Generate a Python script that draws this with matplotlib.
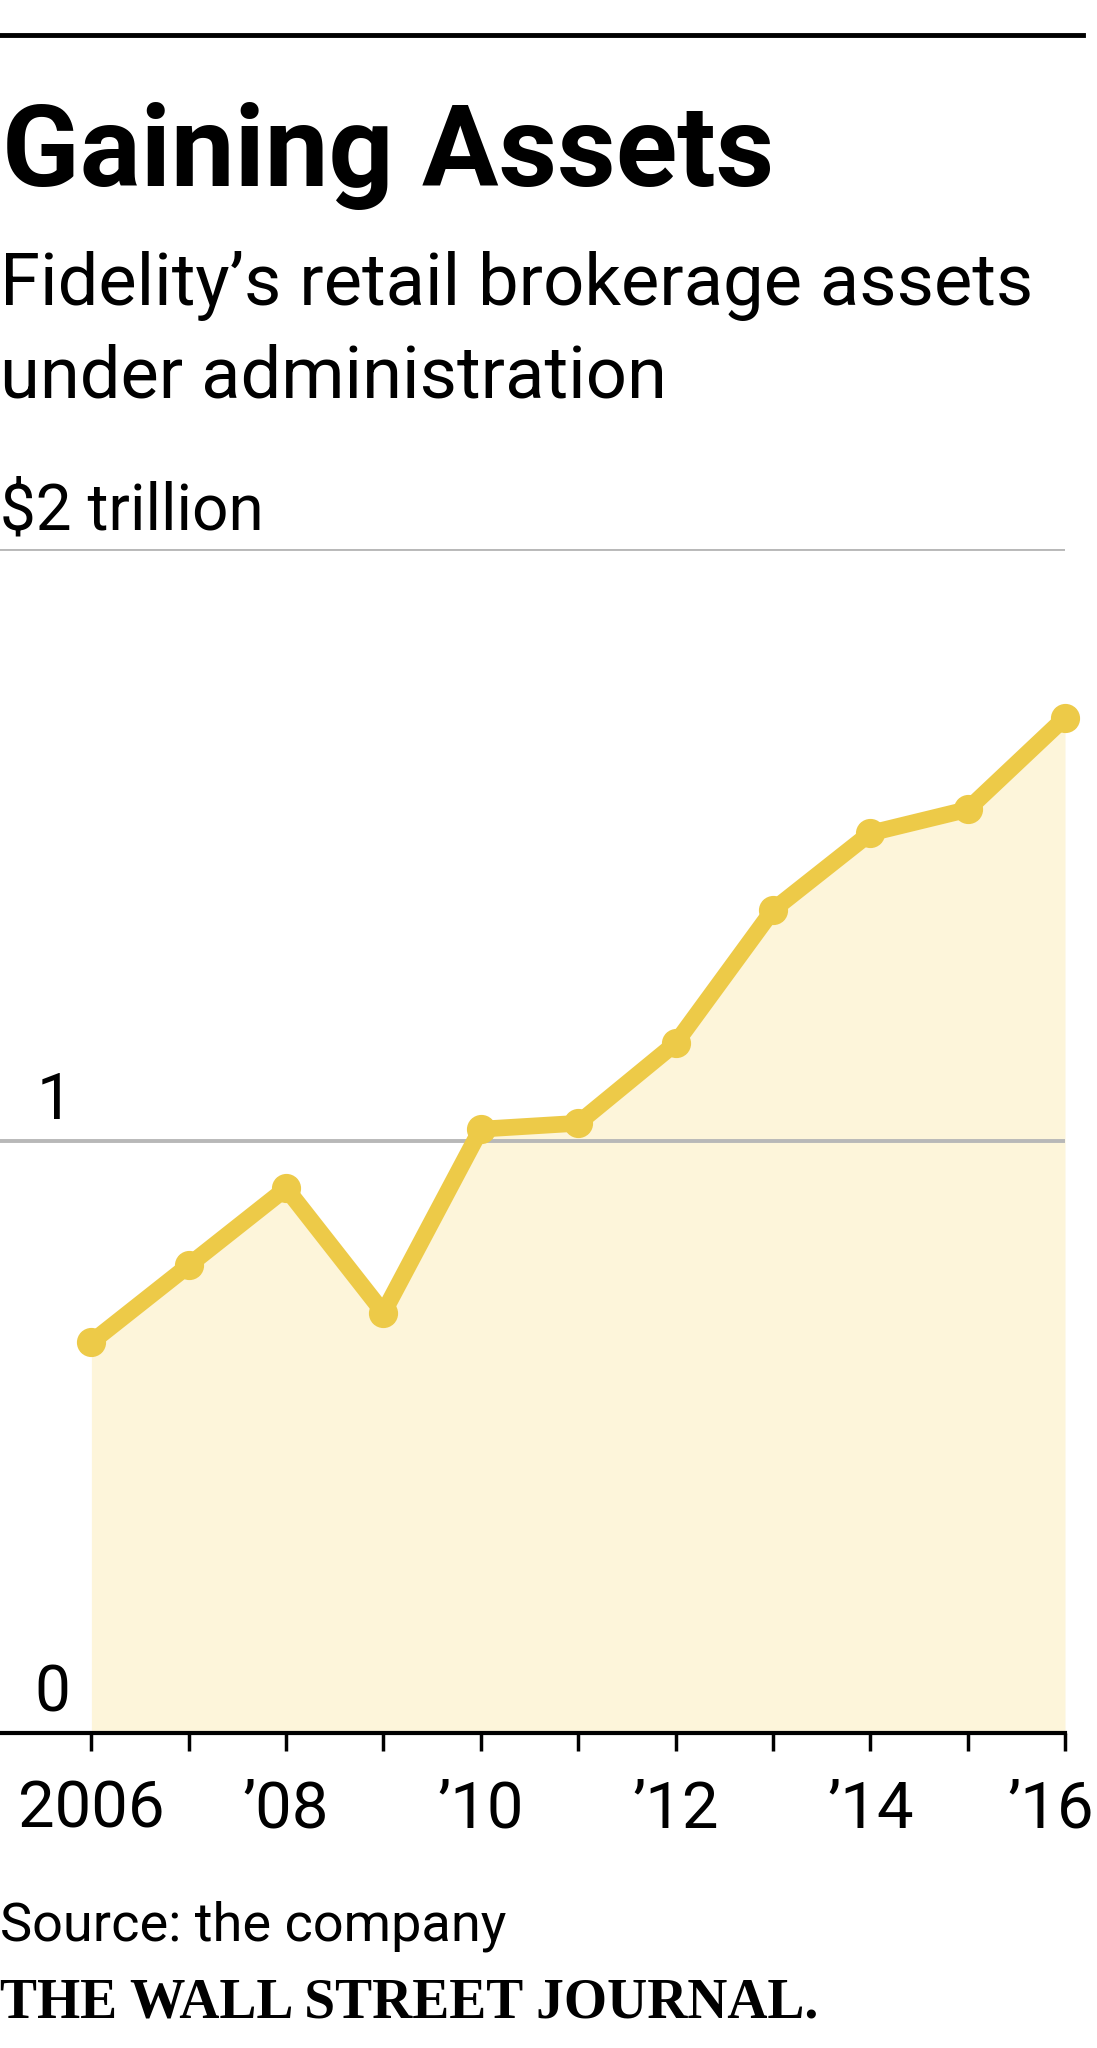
import matplotlib
matplotlib.use('Agg')
import matplotlib.pyplot as plt

# --- Dados ---
anos = [2006, 2007, 2008, 2009, 2010, 2011, 2012, 2013, 2014, 2015, 2016]
ativos_tri = [0.66, 0.79, 0.92, 0.71, 1.02, 1.03, 1.165, 1.39, 1.52, 1.56, 1.715]
anos_rotulo = [2006, 2008, 2010, 2012, 2014, 2016]
rotulos_x = ['2006', '\u201908', '\u201910', '\u201912', '\u201914', '\u201916']
grade_y = [1, 2]

# --- Estilo ---
COR_LINHA = '#EDCA48'
COR_AREA = '#FDF5DA'
COR_GRADE = '#B8B8B8'
FONTE = ['Roboto', 'DejaVu Sans']
FONTE_SERIF = ['Liberation Serif', 'DejaVu Serif']

W, H = 1097, 2048
fig = plt.figure(figsize=(W / 100, H / 100), dpi=100)

def fx(px):
    return px / W

def fy(py):
    return 1 - py / H

# área do gráfico: x de 0 a 1065 px, y=0 em 1733 px, y=2 em 549 px
X_DIR = 1065
X_2006 = 91.4
ax = fig.add_axes([0, fy(1733), fx(X_DIR), fy(549) - fy(1733)])
x_esq = 2006 - X_2006 / ((X_DIR - X_2006) / 10)
ax.set_xlim(x_esq, 2016)
ax.set_ylim(0, 2)

def px_ano(a):
    return (a - x_esq) / (2016 - x_esq) * X_DIR

for g in grade_y:
    ax.axhline(g, color=COR_GRADE, lw=2.8, zorder=1)

ax.fill_between(anos, 0, ativos_tri, color=COR_AREA, lw=0, zorder=0)
ax.plot(anos, ativos_tri, color=COR_LINHA, lw=12, marker='o', ms=20,
        solid_joinstyle='round', solid_capstyle='round', zorder=3, clip_on=False)

for s in ['top', 'right', 'left']:
    ax.spines[s].set_visible(False)
ax.spines['bottom'].set_linewidth(3)
ax.spines['bottom'].set_color('black')
ax.spines['bottom'].set_zorder(4)

ax.set_yticks([])
ax.set_xticks(anos)
ax.set_xticklabels(['' for _ in anos])
ax.tick_params(axis='x', length=13, width=2.5, color='black', direction='out')

# rótulos do eixo x só nos anos pares (o último encostado na borda direita)
for a, r in zip(anos_rotulo, rotulos_x):
    if a == anos_rotulo[-1]:
        fig.text(fx(1094), fy(1828), r, ha='right', va='baseline',
                 fontsize=47, family=FONTE)
    else:
        fig.text(fx(px_ano(a)), fy(1828), r, ha='center', va='baseline',
                 fontsize=47, family=FONTE)

# rótulos do eixo y
fig.text(fx(72), fy(1119), '1', ha='right', va='baseline', fontsize=46, family=FONTE)
fig.text(fx(70), fy(1712), '0', ha='right', va='baseline', fontsize=46, family=FONTE)

# --- Títulos e textos ---
fig.add_artist(plt.Line2D([0, fx(1083)], [fy(35), fy(35)], color='black', lw=3.5))
fig.text(fx(2), fy(186), 'Gaining Assets', ha='left', va='baseline',
         fontsize=82, fontweight='bold', family=FONTE)
fig.text(fx(0), fy(305), 'Fidelity\u2019s retail brokerage assets', ha='left', va='baseline',
         fontsize=52, family=FONTE)
fig.text(fx(0), fy(398), 'under administration', ha='left', va='baseline',
         fontsize=52, family=FONTE)
fig.text(fx(0), fy(530), '$2 trillion', ha='left', va='baseline',
         fontsize=46, family=FONTE)
fig.text(fx(0), fy(1940), 'Source: the company', ha='left', va='baseline',
         fontsize=39, family=FONTE)
fig.text(fx(0), fy(2018), 'THE WALL STREET JOURNAL.', ha='left', va='baseline',
         fontsize=40, fontweight='bold', family=FONTE_SERIF)

fig.savefig('out.png', dpi=100)
